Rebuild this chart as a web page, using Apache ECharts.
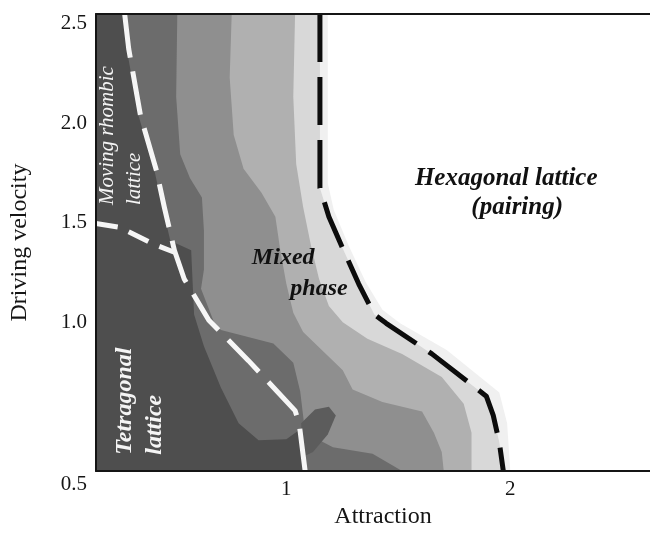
<!DOCTYPE html>
<html>
<head>
<meta charset="utf-8">
<script src="https://cdn.jsdelivr.net/npm/echarts@6/dist/echarts.min.js"></script>
<style>
  html, body { margin: 0; padding: 0; background: #ffffff; }
  #chart { width: 650px; height: 534px; }
</style>
</head>
<body>
<div id="chart"></div>
<script>
// Plotted domain: attraction (x) and driving velocity (y)
const xRange = [0.15, 2.624];
const yRange = [0.257, 2.546];
const xTickValues = [1, 2];
const yTickValues = [1.0, 1.5, 2.0, 2.5];
const yFloorLabel = '0.5';

// the left edge of the plot closes every region.
const hazeEdge = [[1.185,2.546],[1.185,1.699],[1.212,1.565],[1.278,1.387],[1.354,1.204],[1.429,1.065],[1.508,0.997],[1.716,0.863],[1.951,0.651],[1.986,0.497],[2.000,0.257]];
const hexagonalBoundary = [[1.150,2.546],[1.150,1.675],[1.190,1.531],[1.252,1.372],[1.323,1.195],[1.393,1.041],[1.446,0.997],[1.650,0.844],[1.893,0.632],[1.924,0.536],[1.951,0.401],[1.969,0.257]];
const lightEdge = [[1.039,2.546],[1.031,2.132],[1.044,1.795],[1.075,1.579],[1.110,1.387],[1.146,1.219],[1.190,1.084],[1.252,1.002],[1.362,0.920],[1.517,0.844],[1.694,0.728],[1.792,0.594],[1.827,0.449],[1.827,0.257]];
const middleEdge = [[0.756,2.546],[0.747,2.228],[0.765,1.940],[0.809,1.771],[0.889,1.651],[0.951,1.531],[0.973,1.363],[1.000,1.195],[1.031,1.050],[1.075,0.954],[1.163,0.858],[1.252,0.762],[1.296,0.666],[1.429,0.603],[1.606,0.555],[1.659,0.449],[1.694,0.353],[1.703,0.257]];
const darkEdge = [[0.513,2.546],[0.508,2.132],[0.526,1.844],[0.570,1.723],[0.623,1.627],[0.632,1.459],[0.632,1.267],[0.619,1.170],[0.677,1.002],[0.708,0.964],[0.942,0.896],[1.031,0.800],[1.062,0.656],[1.084,0.449],[1.208,0.377],[1.385,0.344],[1.517,0.257]];
const darkestEdge = [[0.269,2.546],[0.287,2.372],[0.340,2.036],[0.411,1.762],[0.446,1.579],[0.482,1.411],[0.575,1.363],[0.588,1.041],[0.632,0.882],[0.708,0.675],[0.787,0.497],[0.876,0.411],[1.000,0.416],[1.053,0.459],[1.075,0.257]];
// Isolated dark patch near attraction 1.1
const darkPatch = [[1.066,0.497],[1.128,0.565],[1.190,0.579],[1.221,0.536],[1.185,0.440],[1.119,0.353],[1.075,0.329]];

// Phase boundaries of the moving rhombic lattice
const rhombicBoundary = [[0.278,2.546],[0.296,2.372],[0.349,2.036],[0.420,1.762],[0.455,1.579],[0.500,1.363],[0.544,1.219],[0.654,1.012],[0.831,0.810],[1.039,0.560],[1.057,0.497],[1.084,0.257]];
const rhombicLowerBoundary = [[0.150,1.497],[0.256,1.478],[0.402,1.396],[0.500,1.353]];

// Phase names and where they sit
const phaseNames = ['Hexagonal lattice', '(pairing)', 'Mixed', 'phase', 'Moving rhombic', 'lattice', 'Tetragonal', 'lattice'];
const phaseNameAnchors = [[1.982,1.723],[2.031,1.579],[0.986,1.324],[1.146,1.170],[0.203,1.589],[0.323,1.589],[0.278,0.339],[0.411,0.339]];

const serif = '"Liberation Serif", "Times New Roman", serif';
const nameStyles = [
  { font: 'italic bold 25px ' + serif, fill: '#111', align: 'center', rot: 0 },
  { font: 'italic bold 25px ' + serif, fill: '#111', align: 'center', rot: 0 },
  { font: 'italic bold 24px ' + serif, fill: '#111', align: 'center', rot: 0 },
  { font: 'italic bold 24px ' + serif, fill: '#111', align: 'center', rot: 0 },
  { font: 'italic 21px ' + serif, fill: '#f4f4f4', align: 'left', rot: Math.PI / 2 },
  { font: 'italic 21px ' + serif, fill: '#f4f4f4', align: 'left', rot: Math.PI / 2 },
  { font: 'italic bold 24px ' + serif, fill: '#f4f4f4', align: 'left', rot: Math.PI / 2 },
  { font: 'italic bold 24px ' + serif, fill: '#f4f4f4', align: 'left', rot: Math.PI / 2 }
];

function regionSeries(edge, color, closedShape) {
  return {
    type: 'custom',
    coordinateSystem: 'cartesian2d',
    silent: true,
    z: 2,
    data: [[xRange[0], yRange[0]]],
    renderItem: function (params, api) {
      const pts = closedShape ? edge
        : [[xRange[0], yRange[1]]].concat(edge, [[xRange[0], yRange[0]]]);
      return {
        type: 'polygon',
        shape: { points: pts.map(function (p) { return api.coord(p); }) },
        style: { fill: color }
      };
    }
  };
}

function boundarySeries(points, color, width, dash) {
  return {
    type: 'line',
    data: points,
    showSymbol: false,
    silent: true,
    z: 4,
    lineStyle: { color: color, width: width, type: dash, cap: 'butt', join: 'round' }
  };
}

const chart = echarts.init(document.getElementById('chart'), null, { renderer: 'canvas' });

chart.setOption({
  animation: false,
  backgroundColor: '#ffffff',
  grid: { left: 91, right: 0, top: 14, bottom: 44, containLabel: false },
  xAxis: [
    {
      type: 'value', position: 'bottom', min: xRange[0], max: xRange[1], z: 10,
      axisLine: { show: true, onZero: false, lineStyle: { color: '#151515', width: 2 } },
      axisTick: { show: false },
      splitLine: { show: false },
      axisLabel: { customValues: xTickValues, color: '#151515', fontFamily: serif, fontSize: 21, margin: 8 },
      name: 'Attraction', nameLocation: 'middle', nameGap: 20,
      nameTextStyle: { color: '#151515', fontFamily: serif, fontSize: 24, padding: [0, 0, 0, 20] }
    },
    {
      type: 'value', position: 'top', min: xRange[0], max: xRange[1], z: 10,
      axisLine: { show: true, onZero: false, lineStyle: { color: '#151515', width: 2 } },
      axisTick: { show: false }, axisLabel: { show: false }, splitLine: { show: false }
    }
  ],
  yAxis: {
    type: 'value', min: yRange[0], max: yRange[1], z: 10,
    axisLine: { show: true, onZero: false, lineStyle: { color: '#151515', width: 2 } },
    axisTick: { show: false },
    splitLine: { show: false },
    axisLabel: {
      customValues: [yRange[0]].concat(yTickValues),
      color: '#151515', fontFamily: serif, fontSize: 21, margin: 9,
      formatter: function (v) {
        return v === yRange[0] ? '{floor|' + yFloorLabel + '}' : v.toFixed(1);
      },
      rich: { floor: { color: '#151515', fontFamily: serif, fontSize: 21, padding: [26, 0, 0, 0] } }
    },
    name: 'Driving velocity', nameLocation: 'middle', nameRotate: 90, nameGap: 64,
    nameTextStyle: { color: '#151515', fontFamily: serif, fontSize: 24 }
  },
  series: [
    regionSeries(hazeEdge, '#f0f0f0', false),
    regionSeries(hexagonalBoundary, '#d8d8d8', false),
    regionSeries(lightEdge, '#b0b0b0', false),
    regionSeries(middleEdge, '#8f8f8f', false),
    regionSeries(darkEdge, '#6c6c6c', false),
    regionSeries(darkestEdge, '#4e4e4e', false),
    regionSeries(darkPatch, '#5c5c5c', true),
    boundarySeries(rhombicBoundary, '#f6f6f6', 5, [44, 14]),
    boundarySeries(rhombicLowerBoundary, '#f6f6f6', 5, [22, 12]),
    boundarySeries(hexagonalBoundary, '#0c0c0c', 5, [48, 15]),
    {
      type: 'custom',
      coordinateSystem: 'cartesian2d',
      silent: true,
      z: 6,
      data: phaseNameAnchors,
      renderItem: function (params, api) {
        const i = params.dataIndex;
        const p = api.coord([api.value(0), api.value(1)]);
        const s = nameStyles[i];
        return {
          type: 'text',
          x: p[0], y: p[1], rotation: s.rot,
          style: { text: phaseNames[i], font: s.font, fill: s.fill, align: s.align, verticalAlign: 'middle' }
        };
      }
    }
  ]
});
</script>
</body>
</html>
